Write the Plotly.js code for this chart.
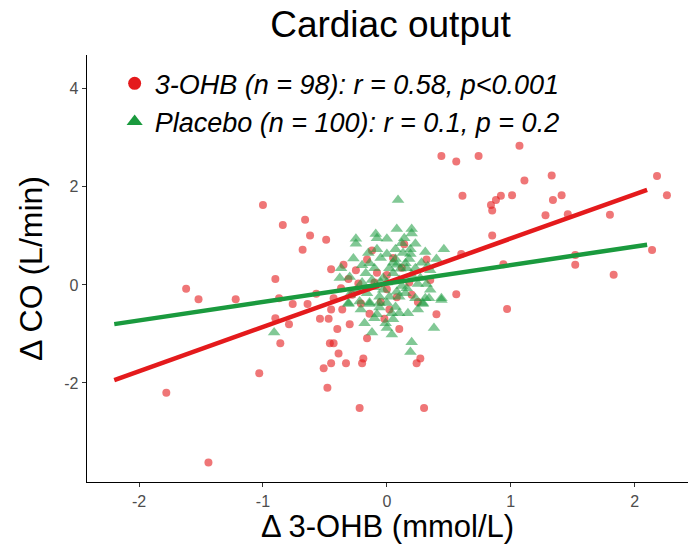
<!DOCTYPE html>
<html>
<head>
<meta charset="utf-8">
<script src="https://cdn.plot.ly/plotly-3.0.1.min.js"></script>
<style>html,body{margin:0;padding:0;background:#fff;}#chart{width:689px;height:545px;}</style>
</head>
<body>
<div id="chart"></div>
<script>
// 3-OHB group (red circles)
const ohbX = [-1.00,-0.84,-0.90,-1.62,-1.52,-1.22,-0.87,0.44,0.56,0.74,0.61,-0.66,-0.62,-0.49,-0.68,0.14,-0.16,0.32,-0.45,-0.35,
  -0.31,-0.23,0.00,0.56,-0.76,-0.64,-0.57,-0.37,-0.43,0.00,0.60,-0.21,1.07,1.33,1.11,2.18,2.26,0.92,1.01,0.88,
  0.84,0.85,1.34,1.41,1.28,1.46,1.80,0.85,2.14,0.94,1.52,1.52,1.83,0.97,-0.90,-0.79,-0.86,-1.03,-1.78,-1.44,
  -0.54,-0.47,-0.45,-0.36,-0.40,-0.46,-0.43,-0.39,-0.45,-0.51,-0.33,-0.48,-0.22,0.30,-0.19,-0.20,-0.16,-0.14,-0.02,0.27,
  0.24,0.02,-0.10,0.08,0.12,-0.05,0.20,-0.28,0.35,-0.12,0.05,0.25,-0.30,0.10,-0.08,0.18,-0.25,0.40];
const ohbY = [1.63,1.22,0.12,-0.08,-0.29,-0.29,-0.27,2.63,2.52,2.63,1.82,1.33,1.01,0.92,0.72,0.83,0.52,0.52,0.32,0.41,
  0.12,0.03,0.20,-0.19,-0.39,-0.39,-0.18,-0.07,-0.27,-0.09,0.63,-0.38,2.84,2.23,2.13,2.22,1.83,1.82,1.83,1.73,
  1.63,1.52,1.73,1.83,1.42,1.44,1.43,1.01,0.71,0.42,0.61,0.41,0.21,-0.49,-0.68,-0.80,-1.19,-1.80,-2.20,-3.62,
  -0.69,-0.69,-0.50,-0.50,-0.90,-1.19,-1.19,-1.40,-1.60,-1.70,-1.60,-2.10,-2.51,-2.51,-1.50,-1.60,-1.09,-0.59,-0.69,-1.50,
  -1.60,-0.50,0.05,-0.25,0.35,-0.35,-0.20,-0.20,0.10,0.70,0.55,-0.35,-0.80,-0.90,0.25,0.05,0.30,-0.60];

// Placebo group (green triangles)
const plaX = [-0.91,-0.31,-0.18,-0.10,-0.12,-0.01,0.00,0.04,0.04,0.10,0.17,-0.06,0.20,0.19,0.38,0.29,0.44,-0.14,-0.21,0.09,
  0.08,0.20,0.20,-0.09,-0.08,-0.25,-0.25,0.00,0.14,0.23,-0.08,0.07,0.19,0.19,0.31,0.46,0.00,-0.27,0.07,0.18,
  0.40,-0.14,0.08,0.15,-0.37,-0.10,0.02,0.05,0.11,0.16,0.23,-0.38,-0.30,-0.17,-0.03,0.27,0.25,0.32,-0.24,-0.16,
  -0.03,0.08,0.15,0.16,0.23,0.31,0.34,0.44,-0.06,0.02,0.10,-0.31,-0.22,-0.14,0.00,-0.06,0.29,-0.05,0.10,0.20,
  -0.20,0.12,-0.10,0.05,-0.05,0.28,0.35,-0.20,0.12,-0.15,0.25,-0.08,0.07,0.35,-0.30,0.00,0.13,-0.12,0.33,0.05];
const plaY = [-0.97,-0.39,-0.78,-0.68,-0.97,-0.78,-0.88,-1.01,-0.58,-0.58,-0.58,-0.46,-1.17,-1.37,-0.88,-0.39,-0.31,-0.39,-0.50,1.73,
  1.14,1.14,1.05,1.04,0.95,0.94,0.84,0.94,0.95,0.84,0.73,0.73,0.73,0.63,0.67,0.73,0.63,0.54,0.53,0.53,
  0.53,0.44,0.41,0.44,0.34,0.34,0.34,0.24,0.33,0.34,0.34,0.14,0.16,0.24,0.14,0.14,0.02,0.02,-0.10,-0.17,
  -0.10,-0.14,-0.17,-0.07,-0.27,-0.27,-0.27,-0.27,-0.24,-0.24,-0.24,-0.37,-0.34,-0.36,-0.37,-0.37,-0.37,0.05,0.10,0.20,
  0.05,-0.02,-0.05,0.45,0.55,0.45,0.30,0.40,0.85,0.65,-0.50,-0.60,-0.45,-0.10,-0.20,0.05,0.65,0.10,0.38,-0.70];

// Regression line end points
const ohbFitX = [-2.2, 2.1];
const ohbFitY = [-1.94, 1.94];
const plaFitX = [-2.2, 2.1];
const plaFitY = [-0.80, 0.82];

const legendLabels = ['3-OHB (n = 98): r = 0.58, p<0.001', 'Placebo (n = 100): r = 0.1, p = 0.2'];
const xTickVals = [-2, -1, 0, 1, 2];
const xTickText = ['-2', '-1', '0', '1', '2'];
const yTickVals = [-2, 0, 2, 4];
const yTickText = ['-2', '0', '2', '4'];

const RED = '#E41A1C';
const GREEN = '#1A9A3E';
const FONT = 'Liberation Sans, Arial, Helvetica, sans-serif';

const traces = [
  {x: ohbX, y: ohbY, type: 'scatter', mode: 'markers', showlegend: false, hoverinfo: 'skip',
   marker: {symbol: 'circle', size: 8, color: RED, opacity: 0.6, line: {width: 0}}},
  {x: plaX, y: plaY, type: 'scatter', mode: 'markers', showlegend: false, hoverinfo: 'skip',
   marker: {symbol: 'triangle-up', size: 11, color: GREEN, opacity: 0.55, line: {width: 0}}},
  {x: ohbFitX, y: ohbFitY, type: 'scatter', mode: 'lines', showlegend: false,
   line: {color: RED, width: 4.5}},
  {x: plaFitX, y: plaFitY, type: 'scatter', mode: 'lines', showlegend: false,
   line: {color: GREEN, width: 4.5}},
  {x: [null], y: [null], type: 'scatter', mode: 'markers', name: legendLabels[0],
   marker: {symbol: 'circle', size: 13, color: RED}},
  {x: [null], y: [null], type: 'scatter', mode: 'markers', name: legendLabels[1],
   marker: {symbol: 'triangle-up', size: 14, color: GREEN}}
];

const axisCommon = {
  showline: true, linecolor: '#000', linewidth: 1.3, mirror: false,
  ticks: 'outside', ticklen: 4, tickwidth: 1, tickcolor: '#333',
  showgrid: false, zeroline: false,
  tickfont: {family: FONT, size: 16, color: '#4d4d4d'}
};

const layout = {
  width: 689, height: 545,
  margin: {l: 87, r: 1, t: 55, b: 63, pad: 0},
  paper_bgcolor: '#fff', plot_bgcolor: '#fff',
  font: {family: FONT, color: '#000'},
  title: {text: 'Cardiac output', font: {family: FONT, size: 37, color: '#000'},
          xref: 'paper', x: 0.505, xanchor: 'center', yref: 'container', y: 0.955, yanchor: 'middle'},
  xaxis: Object.assign({}, axisCommon, {
    range: [-2.42, 2.43], tickvals: xTickVals, ticktext: xTickText,
    title: {text: 'Δ 3-OHB (mmol/L)', font: {family: FONT, size: 31, color: '#000'}, standoff: 4}
  }),
  yaxis: Object.assign({}, axisCommon, {
    range: [-4.02, 4.69], tickvals: yTickVals, ticktext: yTickText,
    title: {text: 'Δ CO (L/min)', font: {family: FONT, size: 32, color: '#000'}, standoff: 12}
  }),
  showlegend: true,
  legend: {x: 0.046, y: 0.99, xanchor: 'left', yanchor: 'top', bgcolor: 'rgba(0,0,0,0)',
           font: {family: FONT, size: 27, color: '#000', style: 'italic'}, tracegroupgap: 0,
           itemsizing: 'trace'}
};

Plotly.newPlot('chart', traces, layout, {displayModeBar: false, staticPlot: true});
</script>
</body>
</html>
